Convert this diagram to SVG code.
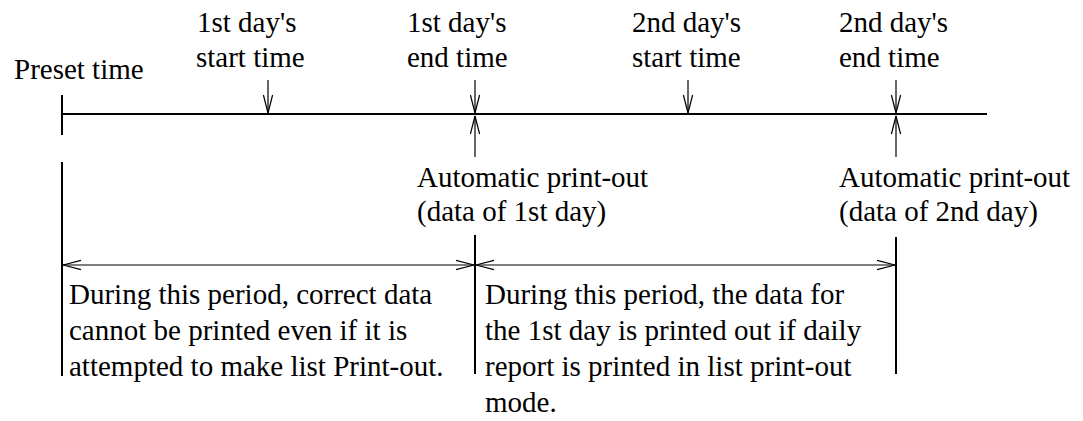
<svg xmlns="http://www.w3.org/2000/svg" width="1083" height="421" viewBox="0 0 1083 421">
<style>
text { font-family: "Liberation Serif", "Times New Roman", serif; font-size: 29px; fill: #000; }
.thick { stroke: #000; stroke-width: 2; fill: none; }
.thin { stroke: #000; stroke-width: 1.2; fill: none; }
</style>
<defs>
<marker id="ah" markerUnits="userSpaceOnUse" markerWidth="20" markerHeight="12" refX="0" refY="0" viewBox="-19 -6 20 12" orient="auto-start-reverse" overflow="visible">
<path d="M-18,-4.6 L0,0 L-18,4.6" fill="none" stroke="#000" stroke-width="1.2"/>
</marker>
</defs>
<rect width="1083" height="421" fill="#fff"/>
<g id="timeline">
<line class="thick" x1="62" y1="114" x2="987" y2="114"/>
<line class="thick" x1="62" y1="95" x2="62" y2="135"/>
</g>
<g id="preset">
<text x="14" y="79">Preset time</text>
</g>
<g id="day1start">
<text x="197" y="32">1st day's</text>
<text x="196" y="67">start time</text>
</g>
<g id="day1end">
<text x="407" y="32">1st day's</text>
<text x="407" y="67">end time</text>
</g>
<g id="day2start">
<text x="632" y="32">2nd day's</text>
<text x="632" y="67">start time</text>
</g>
<g id="day2end">
<text x="839" y="32">2nd day's</text>
<text x="839" y="67">end time</text>
</g>
<g id="print1">
<text x="417" y="187">Automatic print-out</text>
<text x="417" y="221">(data of 1st day)</text>
</g>
<g id="print2">
<text x="839" y="187">Automatic print-out</text>
<text x="839" y="221">(data of 2nd day)</text>
</g>
<g id="period1">
<text x="69" y="304">During this period, correct data</text>
<text x="69" y="340">cannot be printed even if it is</text>
<text x="69" y="376">attempted to make list Print-out.</text>
</g>
<g id="period2">
<text x="485" y="304">During this period, the data for</text>
<text x="485" y="340">the 1st day is printed out if daily</text>
<text x="485" y="376">report is printed in list print-out</text>
<text x="485" y="412">mode.</text>
</g>
<g id="connectors">
<line class="thin" x1="268" y1="80" x2="268" y2="113" marker-end="url(#ah)"/>
<line class="thin" x1="475" y1="80" x2="475" y2="113" marker-end="url(#ah)"/>
<line class="thin" x1="688" y1="80" x2="688" y2="113" marker-end="url(#ah)"/>
<line class="thin" x1="896" y1="80" x2="896" y2="113" marker-end="url(#ah)"/>
<line class="thin" x1="475" y1="157" x2="475" y2="116" marker-end="url(#ah)"/>
<line class="thin" x1="896" y1="157" x2="896" y2="116" marker-end="url(#ah)"/>
<line class="thick" x1="62" y1="162" x2="62" y2="376"/>
<line class="thick" x1="475" y1="235" x2="475" y2="374"/>
<line class="thick" x1="896" y1="237" x2="896" y2="374"/>
<line class="thin" x1="63" y1="265" x2="474" y2="265" marker-start="url(#ah)" marker-end="url(#ah)"/>
<line class="thin" x1="476" y1="265" x2="895" y2="265" marker-start="url(#ah)" marker-end="url(#ah)"/>
</g>
</svg>
